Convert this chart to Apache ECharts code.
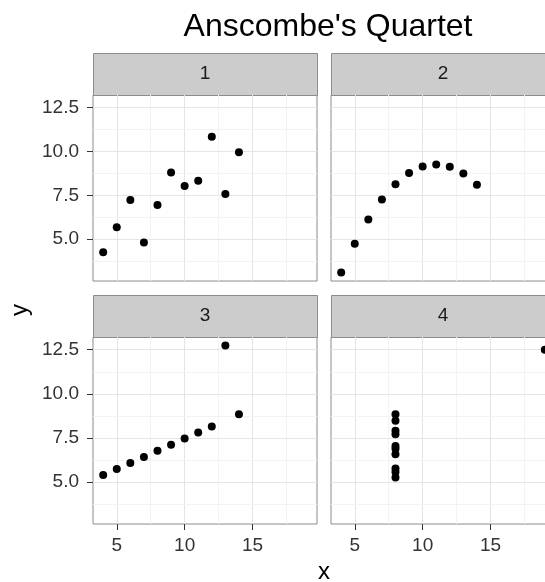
<!DOCTYPE html>
<html>
<head>
<meta charset="utf-8">
<script src="https://cdn.jsdelivr.net/npm/echarts@6/dist/echarts.min.js"></script>
<style>
  html, body { margin: 0; padding: 0; background: #fff; }
  #main { width: 545px; height: 582px; }
</style>
</head>
<body>
<div id="main"></div>
<script>
// Anscombe's quartet
var x123 = [10, 8, 13, 9, 11, 14, 6, 4, 12, 7, 5];
var x4 = [8, 8, 8, 8, 8, 8, 8, 19, 8, 8, 8];
var y1 = [8.04, 6.95, 7.58, 8.81, 8.33, 9.96, 7.24, 4.26, 10.84, 4.82, 5.68];
var y2 = [9.14, 8.14, 8.74, 8.77, 9.26, 8.10, 6.13, 3.10, 9.13, 7.26, 4.74];
var y3 = [7.46, 6.77, 12.74, 7.11, 7.81, 8.84, 6.08, 5.39, 8.15, 6.42, 5.73];
var y4 = [6.58, 5.76, 7.71, 8.84, 8.47, 7.04, 5.25, 12.50, 5.56, 7.91, 6.89];
var panelNames = ['1', '2', '3', '4'];

var xTicks = [5, 10, 15];
var xMinor = [7.5, 12.5, 17.5];
var yTicks = [5, 7.5, 10, 12.5];
var yMinor = [3.75, 6.25, 8.75, 11.25];

var FONT = 'Liberation Sans';

var panels = [
  { x: x123, y: y1 },
  { x: x123, y: y2 },
  { x: x123, y: y3 },
  { x: x4, y: y4 }
];

var boxes = [
  { left: 93, top: 95, width: 224, height: 186 },
  { left: 331, top: 95, width: 224, height: 186 },
  { left: 93, top: 337, width: 224, height: 187 },
  { left: 331, top: 337, width: 224, height: 187 }
];
var stripH = 42;

function pairs(xs, ys) {
  return xs.map(function (v, i) { return [v, ys[i]]; });
}

var grids = [], xAxes = [], yAxes = [], series = [], graphics = [];

boxes.forEach(function (b, i) {
  grids.push({
    left: b.left, top: b.top, width: b.width, height: b.height,
    outerBoundsMode: 'none', containLabel: false,
    show: true, backgroundColor: '#fff', borderColor: '#8c8c8c', borderWidth: 1
  });
  var showX = i >= 2, showY = i % 2 === 0;
  xAxes.push({
    gridIndex: i, type: 'value', min: 3.25, max: 19.75,
    axisLine: { show: false },
    splitLine: { show: false },
    axisTick: { show: showX, customValues: xTicks, length: 6, lineStyle: { color: '#333' } },
    axisLabel: { show: showX, customValues: xTicks, margin: 12, color: '#333', fontSize: 19, fontFamily: FONT }
  });
  yAxes.push({
    gridIndex: i, type: 'value', min: 2.618, max: 13.222,
    axisLine: { show: false },
    splitLine: { show: false },
    axisTick: { show: showY, customValues: yTicks, length: 6, lineStyle: { color: '#333' } },
    axisLabel: {
      show: showY, customValues: yTicks, margin: 14, color: '#333', fontSize: 19, fontFamily: FONT,
      formatter: function (v) { return v.toFixed(1); }
    }
  });

  // grid lines
  var lines = [];
  xTicks.forEach(function (v) { lines.push({ xAxis: v, lineStyle: { color: '#e5e5e5', width: 1, type: 'solid' } }); });
  xMinor.forEach(function (v) { lines.push({ xAxis: v, lineStyle: { color: '#f3f3f3', width: 1, type: 'solid' } }); });
  yTicks.forEach(function (v) { lines.push({ yAxis: v, lineStyle: { color: '#e5e5e5', width: 1, type: 'solid' } }); });
  yMinor.forEach(function (v) { lines.push({ yAxis: v, lineStyle: { color: '#f3f3f3', width: 1, type: 'solid' } }); });
  series.push({
    type: 'scatter', xAxisIndex: i, yAxisIndex: i, data: [], z: 1, silent: true,
    markLine: { silent: true, z: 1, symbol: 'none', label: { show: false }, animation: false, data: lines }
  });

  series.push({
    type: 'scatter', xAxisIndex: i, yAxisIndex: i, z: 10,
    symbolSize: 8, itemStyle: { color: '#000', opacity: 1 },
    data: pairs(panels[i].x, panels[i].y)
  });

  // facet strip
  graphics.push({
    type: 'rect', left: b.left, top: b.top - stripH,
    shape: { width: b.width, height: stripH },
    style: { fill: '#cccccc', stroke: '#8c8c8c', lineWidth: 1 }
  });
  graphics.push({
    type: 'text', x: b.left + b.width / 2, y: b.top - stripH / 2,
    style: { text: panelNames[i], fill: '#1a1a1a', font: '19px "' + FONT + '"', textAlign: 'center', textVerticalAlign: 'middle' }
  });
});

graphics.push({
  type: 'text', x: 328, y: 27,
  style: { text: "Anscombe's Quartet", fill: '#000', font: '32px "' + FONT + '"', textAlign: 'center', textVerticalAlign: 'middle' }
});
graphics.push({
  type: 'text', x: 324, y: 572,
  style: { text: 'x', fill: '#000', font: '24px "' + FONT + '"', textAlign: 'center', textVerticalAlign: 'middle' }
});
graphics.push({
  type: 'text', x: 20, y: 310, rotation: Math.PI / 2,
  style: { text: 'y', fill: '#000', font: '24px "' + FONT + '"', textAlign: 'center', textVerticalAlign: 'middle' }
});

var option = {
  animation: false,
  backgroundColor: '#fff',
  grid: grids,
  xAxis: xAxes,
  yAxis: yAxes,
  series: series,
  graphic: graphics
};

var myChart = echarts.init(document.getElementById('main'));
myChart.setOption(option);
</script>
</body>
</html>
